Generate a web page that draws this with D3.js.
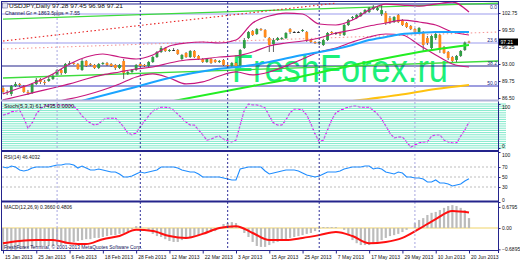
<!DOCTYPE html>
<html>
<head>
<meta charset="utf-8">
<script src="https://cdn.jsdelivr.net/npm/d3@7"></script>
<style>
  body { margin: 0; background: #fff; }
  svg { display: block; }
  text { font-family: "Liberation Sans", Arial, sans-serif; }
</style>
</head>
<body>
<div id="app"></div>
<script>
// USDJPY daily, 15 Jan 2013 - 20 Jun 2013 (one value per trading day)
var opens = [88.42,87.66,87.28,88.80,89.19,88.80,87.66,87.47,89.19,90.14,
  89.57,89.76,90.14,90.91,91.86,91.29,93.01,93.20,93.01,91.86,
  93.58,93.01,92.82,92.24,93.01,93.20,93.01,92.82,92.24,93.58,
  91.29,91.48,91.86,93.01,92.82,92.63,93.39,94.34,95.30,96.06,
  95.49,95.68,95.68,93.96,95.11,94.34,95.49,94.54,93.96,93.39,
  93.96,93.77,93.39,93.77,92.82,92.63,93.20,92.43,96.06,97.97,
  99.31,98.74,99.69,99.50,97.97,96.83,97.59,97.78,97.97,99.69,
  99.12,99.12,99.31,99.12,97.59,97.21,97.02,96.64,97.59,99.12,
  98.93,98.93,98.55,100.46,101.79,101.79,102.18,102.75,102.94,103.51,
  103.32,102.56,102.75,101.79,101.03,102.37,101.41,100.84,100.27,99.69,
  99.12,99.12,97.97,96.06,97.97,98.55,96.26,95.30,94.34,93.77,
  94.54,95.68,97.28];
var highs = [88.80,88.04,88.99,89.57,89.38,88.99,88.04,89.38,90.33,90.33,
  89.95,90.52,91.10,92.05,92.05,93.20,93.58,93.39,93.20,93.96,
  93.77,93.20,93.01,93.20,93.39,93.39,93.20,93.01,93.01,93.96,
  91.67,92.05,93.01,93.20,93.01,93.58,94.54,95.49,96.45,96.26,
  95.87,96.06,95.87,94.92,95.30,95.68,95.68,94.73,94.15,94.15,
  94.15,93.96,93.77,93.96,93.01,93.39,93.39,95.87,97.97,99.31,
  99.50,99.88,99.88,99.69,98.17,97.97,98.17,98.17,99.12,99.88,
  99.31,99.31,99.69,99.31,97.78,97.40,97.40,97.78,99.12,99.31,
  99.12,99.12,100.65,101.60,102.18,102.56,102.94,103.51,103.90,104.28,
  104.09,104.28,103.13,102.18,102.18,102.56,101.60,101.03,100.46,99.88,
  100.08,99.31,98.36,98.55,98.93,98.74,96.45,95.49,94.54,94.73,
  95.68,97.30,97.45];
var lows = [87.28,87.08,86.89,88.61,88.61,87.47,87.08,87.28,88.99,89.19,
  88.99,89.57,89.95,90.71,90.91,91.10,92.82,92.82,91.86,91.67,
  92.43,92.63,92.05,92.05,92.82,92.63,92.43,91.86,92.05,90.14,
  90.91,91.29,91.67,92.43,92.43,92.43,93.20,94.15,95.11,95.30,
  95.30,95.49,94.73,93.77,94.15,94.15,94.15,93.77,93.20,93.20,
  93.01,93.20,93.20,92.63,92.43,92.43,92.24,92.24,95.87,97.78,
  98.36,98.55,99.31,97.97,95.30,95.30,97.40,97.59,97.78,98.74,
  98.93,98.93,99.12,97.21,97.02,96.83,96.64,96.45,97.40,98.74,
  98.55,98.36,98.36,100.27,101.41,101.60,101.99,102.56,102.75,103.32,
  103.13,102.18,100.46,100.65,100.84,100.84,100.27,99.88,99.50,98.93,
  98.93,95.30,96.64,95.68,97.59,95.11,94.92,93.77,93.39,93.39,
  94.34,95.49,96.98];
var closes = [87.66,87.47,88.80,89.19,88.99,87.66,87.47,89.19,89.95,89.57,
  89.38,90.14,90.71,91.86,91.29,93.01,93.20,93.01,92.05,93.58,
  92.63,92.82,92.24,93.01,93.20,92.82,92.63,92.24,92.82,91.29,
  91.48,91.86,92.82,92.63,92.63,93.39,94.34,95.30,96.06,95.49,
  95.68,95.68,94.92,94.73,94.34,95.49,94.34,93.96,93.39,93.96,
  93.20,93.39,93.58,92.82,92.63,93.20,92.43,95.68,97.59,99.12,
  98.55,99.69,99.50,98.17,96.64,97.59,97.97,97.97,98.93,99.12,
  99.12,99.12,99.50,97.59,97.21,97.02,97.21,97.59,98.93,98.93,
  98.93,98.74,100.46,101.41,101.99,102.37,102.75,103.32,103.70,103.90,
  103.70,103.32,100.84,101.03,101.99,101.03,100.46,100.08,99.69,99.12,
  99.88,96.64,97.02,98.36,98.74,95.68,95.11,94.15,93.58,94.54,
  95.49,97.10,97.21];

// indicator curves read every 4th bar
var sampleBars = [0,4,8,12,16,20,24,28,32,36,40,44,48,52,56,60,64,68,72,76,80,84,88,92,96,100,104,108,112];
var bbUpper = [87.28,88.42,89.57,91.10,93.01,94.34,94.92,94.34,93.96,94.73,96.45,97.02,97.21,97.02,97.59,
  100.84,102.18,102.75,102.56,100.65,100.46,101.41,103.32,104.47,104.28,104.09,104.47,104.85,102.94];
var bbMiddle = [86.13,86.89,87.66,88.42,89.19,90.14,90.91,91.48,92.05,92.43,93.20,93.77,93.96,94.34,94.54,
  95.30,96.45,97.02,97.40,97.97,98.93,99.50,100.27,100.84,101.41,101.03,100.46,99.12,98.55];
var bbLower = [84.22,84.99,85.37,85.75,86.32,87.08,88.04,89.19,90.52,91.10,90.33,89.19,89.57,90.71,91.48,
  90.91,91.48,92.63,93.96,95.30,96.06,97.21,98.17,98.74,98.55,96.64,94.73,93.01,92.43];
var macdSignal = [-0.49,-0.42,-0.39,-0.39,-0.49,-0.52,-0.36,-0.26,-0.06,-0.10,-0.26,-0.32,-0.19,0.00,0.06,
  -0.16,-0.39,-0.39,-0.32,-0.23,-0.13,-0.26,-0.49,-0.45,-0.32,-0.03,0.29,0.55,0.50];

var maBlueBars = [18,30,42,50,60,64,72,80,84,88,92,96,100,104,108,112];
var maBlue = [85.75,88.23,90.71,91.86,92.82,93.39,94.73,95.87,96.64,97.59,98.17,98.74,98.93,99.12,99.12,99.12];
var maLimeBars = [41,60,70,80,90,100,112];
var maLime = [85.94,88.80,90.33,92.05,93.77,95.30,96.64];
var maGoldBars = [84,95,104,112];
var maGold = [85.94,87.08,88.23,88.99];

// straight objects: [start bar, end bar] and prices
var channelBars = [0, 119];
var channelTop = [101.60, 104.66];
var channelBottom = [90.33, 93.58];
var redLineBars = [0, 80];
var redLine = [97.40, 104.64];
var pinkLineBars = [0, 119];
var pinkLine = [95.87, 99.12];
var fiboLevels = [104.47, 102.56, 97.02, 92.63, 88.80];
var fiboNames = ["0.0", "", "23.6", "38.2", "50.0"];

var stoch = [75,77,82,84,86,68,45,57,77,89, 95,98,98,98,98,98,98,95,86,73,
  64,57,52,55,64,68,68,68,59,48, 34,30,34,48,61,73,84,89,93,93,
  91,86,77,68,59,52,52,41,30,18, 20,25,27,20,16,14,18,52,86,100,
  98,98,95,91,73,57,52,52,64,80, 89,89,86,75,55,32,14,18,41,64,
  80,86,89,93,95,95,93,93,93,86, 77,66,50,34,23,25,25,14,2,7,
  11,14,14,27,30,30,18,14,11,11, 27,41,59];
var stochLevels = [0,5,10,15,20,25,30,35,40,45,50,55,60,65,70,75,80,85,90,95,100];
var rsi = [70,68,72,70,64,62,64,68,70,70, 70,70,72,74,74,76,76,74,68,72,
  68,64,64,66,64,62,60,60,56,50, 50,52,56,60,58,60,62,64,70,70,
  70,70,68,64,62,60,60,56,50,50, 50,50,50,48,46,44,44,66,68,70,
  70,70,70,62,56,58,60,62,64,64, 64,62,58,54,52,50,52,56,60,60,
  60,62,66,68,70,70,70,72,72,66, 68,66,60,58,56,60,58,50,50,48,
  48,46,40,40,44,38,38,36,32,34, 36,42,46.4];
var rsiLevels = [70, 50, 30];
var macdHist = [-0.74,-0.74,-0.71,-0.71,-0.68,-0.68,-0.65,-0.65,-0.61,-0.61,
  -0.58,-0.58,-0.58,-0.55,-0.55,-0.52,-0.49,-0.45,-0.42,-0.39,
  -0.36,-0.36,-0.32,-0.32,-0.29,-0.26,-0.23,-0.23,-0.19,-0.16,
  -0.13,-0.03,0.06,0.06,0.00,-0.10,-0.19,-0.26,-0.29,-0.36,
  -0.42,-0.45,-0.45,-0.39,-0.32,-0.29,-0.26,-0.23,-0.19,-0.16,
  -0.13,-0.10,-0.03,0.13,0.16,0.19,0.16,0.03,-0.16,-0.29,
  -0.45,-0.58,-0.61,-0.61,-0.55,-0.49,-0.45,-0.42,-0.36,-0.32,
  -0.29,-0.26,-0.23,-0.19,-0.16,-0.10,-0.03,0.03,0.03,0.03,
  0.03,0.00,-0.06,-0.23,-0.39,-0.49,-0.55,-0.55,-0.55,-0.52,
  -0.45,-0.39,-0.32,-0.26,-0.23,-0.19,-0.13,-0.06,0.00,0.16,
  0.26,0.32,0.42,0.49,0.52,0.58,0.65,0.71,0.74,0.71,
  0.65,0.58,0.32];

var priceTicks = [102.75, 99.50, 96.25, 93.00, 89.75, 86.50];
var lastPrice = 97.21;
var macdTicks = [0.6795, 0, -0.6895];
var tickBars = [0,8,16,24,32,40,48,56,64,72,80,88,96,104,112];
var tickLabels = ["15 Jan 2013","25 Jan 2013","6 Feb 2013","18 Feb 2013","28 Feb 2013","12 Mar 2013",
  "22 Mar 2013","3 Apr 2013","15 Apr 2013","25 Apr 2013","7 May 2013","17 May 2013","29 May 2013",
  "10 Jun 2013","20 Jun 2013"];
var separatorBars = [13, 33, 54, 76, 99];

var width = 520, height = 260;
var navy = "#24248c";

var svg = d3.select("#app").append("svg")
  .attr("width", width)
  .attr("height", height);
svg.append("rect").attr("width", width).attr("height", height).attr("fill", "#fff");

var x = d3.scaleLinear().domain([0, 112]).range([3, 469]);
var yPrice = d3.scaleLinear().domain([86.12, 104.86]).range([100, 2]);
var yStoch = d3.scaleLinear().domain([0, 100]).range([148, 104]);
var yRsi = d3.scaleLinear().domain([0, 100]).range([202, 152]);
var yMacd = d3.scaleLinear().domain([-0.71, 0.84]).range([250, 202]);

// clip each panel
var defs = svg.append("defs");
function panel(id, top, bottom) {
  defs.append("clipPath").attr("id", id)
    .append("rect").attr("x", 2).attr("y", top).attr("width", 496).attr("height", bottom - top);
  return svg.append("g").attr("clip-path", "url(#" + id + ")");
}
var gMain = panel("cMain", 2, 100);
var gStoch = panel("cStoch", 101, 150);
var gRsi = panel("cRsi", 152, 201);
var gMacd = panel("cMacd", 202, 250);

function drawLine(g, bars, vals, yScale, color, w, dash, curve) {
  var line = d3.line()
    .x((d, k) => x(bars[k]))
    .y(d => yScale(d))
    .curve(curve || d3.curveMonotoneX);
  g.append("path").datum(vals)
    .attr("d", line)
    .attr("fill", "none")
    .attr("stroke", color)
    .attr("stroke-width", w)
    .attr("stroke-dasharray", dash || null);
}
var allBars = d3.range(closes.length);

// stochastic level lines
svg.append("g").selectAll("line").data(stochLevels).enter().append("line")
  .attr("x1", 2).attr("x2", 506)
  .attr("y1", d => yStoch(d)).attr("y2", d => yStoch(d))
  .attr("stroke", "#70e6c4").attr("stroke-width", 0.9);

// RSI levels
gRsi.selectAll("line").data(rsiLevels).enter().append("line")
  .attr("x1", 2).attr("x2", 498)
  .attr("y1", d => yRsi(d)).attr("y2", d => yRsi(d))
  .attr("stroke", "#bdbdbd").attr("stroke-dasharray", "2,2");

// MACD zero line
gMacd.append("line").attr("x1", 2).attr("x2", 498)
  .attr("y1", yMacd(0)).attr("y2", yMacd(0))
  .attr("stroke", "#f0d468").attr("stroke-width", 1.2);

// watermark
gMain.append("text")
  .attr("x", 232).attr("y", 82)
  .attr("font-size", 39)
  .attr("textLength", 216).attr("lengthAdjust", "spacingAndGlyphs")
  .attr("fill", "#1cf07a")
  .text("FreshForex.ru");

// fibo / horizontal levels
gMain.selectAll(".fibo").data(fiboLevels).enter().append("line")
  .attr("x1", 2).attr("x2", 498)
  .attr("y1", d => yPrice(d)).attr("y2", d => yPrice(d))
  .attr("stroke", (d, i) => (i === 1 || i === 2) ? "#9c9cee" : (i === 4 ? "#3c3cc0" : navy))
  .attr("stroke-width", 1.1);

// month separators
svg.append("g").selectAll("line").data(separatorBars).enter().append("line")
  .attr("x1", d => x(d)).attr("x2", d => x(d))
  .attr("y1", 2).attr("y2", 250)
  .attr("stroke", (d, i) => (i === 0 || i === separatorBars.length - 1) ? "#a8a8e0" : "#30309a")
  .attr("stroke-dasharray", "2,2");

// channel and trend lines
drawLine(gMain, channelBars, channelTop, yPrice, "#3ddc3d", 1.3, null, d3.curveLinear);
drawLine(gMain, channelBars, channelBottom, yPrice, "#3ddc3d", 1.3, null, d3.curveLinear);
drawLine(gMain, redLineBars, redLine, yPrice, "#e82020", 1.1, "1.5,2.5", d3.curveLinear);
drawLine(gMain, pinkLineBars, pinkLine, yPrice, "#f59a9a", 1.1, "1.5,2.5", d3.curveLinear);

// candles
var bull = "#2f9e44", bear = "#ff8a1c";
var candles = gMain.append("g").selectAll("g").data(allBars).enter().append("g");
candles.append("line")
  .attr("x1", i => x(i)).attr("x2", i => x(i))
  .attr("y1", i => yPrice(highs[i])).attr("y2", i => yPrice(lows[i]))
  .attr("stroke", "#3a3a3a").attr("stroke-width", 0.8);
candles.append("rect")
  .attr("x", i => x(i) - 1.4).attr("width", 2.8)
  .attr("y", i => yPrice(Math.max(opens[i], closes[i])))
  .attr("height", i => Math.max(0.9, Math.abs(yPrice(opens[i]) - yPrice(closes[i]))))
  .attr("fill", i => closes[i] > opens[i] ? bull : (closes[i] < opens[i] ? bear : "#222"));

// bands and moving averages
drawLine(gMain, sampleBars, bbUpper, yPrice, "#c8187e", 1.2);
drawLine(gMain, sampleBars, bbMiddle, yPrice, "#c8187e", 1.2);
drawLine(gMain, sampleBars, bbLower, yPrice, "#c8187e", 1.2);
drawLine(gMain, maBlueBars, maBlue, yPrice, "#1aa4ff", 2);
drawLine(gMain, maLimeBars, maLime, yPrice, "#22ee22", 2);
drawLine(gMain, maGoldBars, maGold, yPrice, "#ffc20e", 2);

// stochastic
drawLine(gStoch, allBars, stoch, yStoch, "#ff00ff", 1.3, "3,1.3", d3.curveLinear);

// RSI
drawLine(gRsi, allBars, rsi, yRsi, "#1e8cff", 1.1, null, d3.curveLinear);

// MACD histogram + signal
gMacd.append("g").selectAll("rect").data(allBars).enter().append("rect")
  .attr("x", i => x(i) - 1.1).attr("width", 2.2)
  .attr("y", i => Math.min(yMacd(0), yMacd(macdHist[i])))
  .attr("height", i => Math.abs(yMacd(macdHist[i]) - yMacd(0)))
  .attr("fill", "#bcbcbc");
drawLine(gMacd, sampleBars, macdSignal, yMacd, "#ff1010", 2);

// frames
var frame = svg.append("g").attr("fill", "none");
frame.append("line").attr("x1", 1.5).attr("x2", 1.5).attr("y1", 1).attr("y2", 251).attr("stroke", navy);
frame.append("line").attr("x1", 498.5).attr("x2", 498.5).attr("y1", 1).attr("y2", 253).attr("stroke", navy);
frame.append("line").attr("x1", 1).attr("x2", 499).attr("y1", 1.5).attr("y2", 1.5).attr("stroke", navy);
frame.append("line").attr("x1", 1).attr("x2", 499).attr("y1", 100.5).attr("y2", 100.5).attr("stroke", "#b2b2d8").attr("stroke-width", 2);
frame.append("line").attr("x1", 1).attr("x2", 499).attr("y1", 151).attr("y2", 151).attr("stroke", navy).attr("stroke-width", 2);
frame.append("line").attr("x1", 1).attr("x2", 499).attr("y1", 201.5).attr("y2", 201.5).attr("stroke", navy).attr("stroke-width", 2);
frame.append("line").attr("x1", 1).attr("x2", 499).attr("y1", 250.5).attr("y2", 250.5).attr("stroke", navy);

// right axes; top and bottom labels of a sub-window sit just inside it
function rightAxis(scale, ticks, fmt, topVal, botVal) {
  var g = svg.append("g").attr("transform", "translate(498.5,0)")
    .call(d3.axisRight(scale).tickValues(ticks).tickSize(2).tickPadding(1.5).tickFormat(fmt));
  g.select(".domain").remove();
  g.selectAll("line").attr("stroke", navy);
  g.selectAll("text").attr("font-size", 5).attr("fill", "#111").attr("font-family", "Liberation Sans, Arial, sans-serif")
    .attr("dy", d => d === topVal ? "0.95em" : (d === botVal ? "-0.1em" : "0.32em"));
  return g;
}
rightAxis(yPrice, priceTicks, d3.format(".2f"));
rightAxis(yStoch, [100, 0], d3.format("d"), 100, 0);
rightAxis(yRsi, [100, 70, 50, 30, 0], d3.format("d"), 100, 0);
rightAxis(yMacd, macdTicks, d => d === 0 ? "0.00" : d3.format(".4f")(d));

// current price box
svg.append("rect").attr("x", 499).attr("y", yPrice(lastPrice) - 3.5)
  .attr("width", 19).attr("height", 7).attr("fill", "#000");
svg.append("text").attr("x", 500.5).attr("y", yPrice(lastPrice) + 2)
  .attr("font-size", 5).attr("fill", "#fff").text(d3.format(".2f")(lastPrice));

// fibo labels (the top one sits under its line)
gMain.selectAll(".fl").data(fiboLevels).enter().append("text")
  .attr("x", 497).attr("y", (d, i) => i === 0 ? yPrice(d) + 5 : yPrice(d) - 1.2)
  .attr("text-anchor", "end").attr("font-size", 5).attr("fill", "#22227a")
  .text((d, i) => fiboNames[i]);

// bottom date axis
var xAxis = svg.append("g").attr("transform", "translate(0,250.5)")
  .call(d3.axisBottom(x).tickValues(tickBars).tickSize(3).tickPadding(1.5)
    .tickFormat((d, i) => tickLabels[i]));
xAxis.select(".domain").remove();
xAxis.selectAll("line").attr("stroke", navy);
xAxis.selectAll("text").attr("text-anchor", "start").attr("x", 1.5)
  .attr("font-size", 5).attr("fill", "#111").attr("font-family", "Liberation Sans, Arial, sans-serif");

// captions
svg.append("rect").attr("x", 2.5).attr("y", 3).attr("width", 5).attr("height", 5)
  .attr("fill", "#e4e4f4").attr("stroke", "#6a6a9a").attr("stroke-width", 0.6);
function caption(txt, px, py, len, color) {
  svg.append("text").attr("x", px).attr("y", py)
    .attr("font-size", 5.8).attr("fill", color || "#111")
    .attr("textLength", len).attr("lengthAdjust", "spacingAndGlyphs")
    .text(txt);
}
caption("USDJPY,Daily  97.28 97.45 96.98 97.21", 9, 8, 114);
caption("Channel Gr = 1863.5pips = 7.55", 5, 15, 75, "#1a1a50");
caption("Stoch(5,3,3) 61.7435 0.0000", 4, 107.5, 70);
caption("RSI(14) 46.4032", 4, 158.5, 36);
caption("MACD(12,26,9) 0.3660 0.4806", 4, 209, 68);
caption("FreshForex Terminal, \u00a9 2001-2013 MetaQuotes Software Corp.", 4, 248.5, 138, "#14145a");
</script>
</body>
</html>
